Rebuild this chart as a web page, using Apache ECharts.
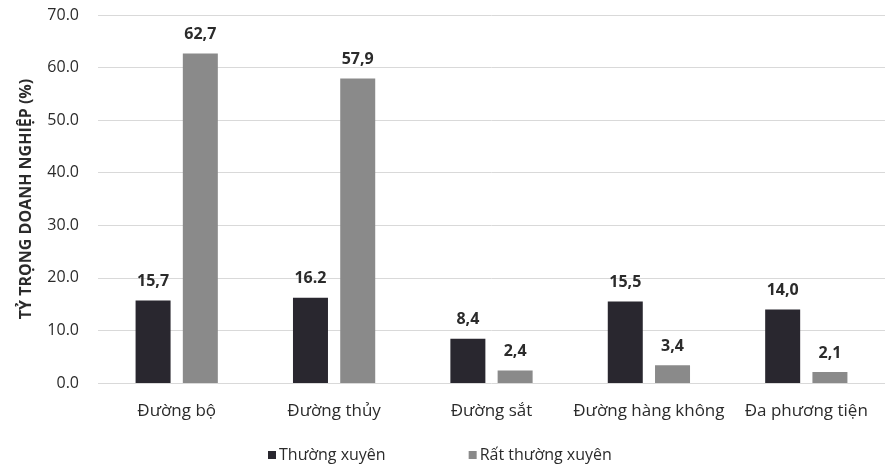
<!DOCTYPE html>
<html>
<head>
<meta charset="utf-8">
<script src="https://cdn.jsdelivr.net/npm/echarts@6/dist/echarts.min.js"></script>
<style>
  html, body { margin: 0; padding: 0; background: #ffffff; }
  #chart { width: 885px; height: 464px; }
</style>
</head>
<body>
<div id="chart"></div>
<script>
// Transport modes used by enterprises
const categories = ['Đường bộ', 'Đường thủy', 'Đường sắt', 'Đường hàng không', 'Đa phương tiện'];

// Share of enterprises (%)
const seriesNames = ['Thường xuyên', 'Rất thường xuyên'];
const regularValues = [15.7, 16.2, 8.4, 15.5, 14.0];
const veryRegularValues = [62.7, 57.9, 2.4, 3.4, 2.1];

// Value labels as printed above the bars
const regularLabels = ['15,7', '16.2', '8,4', '15,5', '14,0'];
const veryRegularLabels = ['62,7', '57,9', '2,4', '3,4', '2,1'];

// Y axis
const yMin = 0, yMax = 70, yStep = 10;
const yAxisName = 'TỶ TRỌNG DOANH NGHIỆP (%)';

const FONT = '"Open Sans", Lato, sans-serif';
const TEXT = '#2b2b2b';

const chart = echarts.init(document.getElementById('chart'), null, { renderer: 'canvas' });

function labelFrom(list) {
  return {
    show: true,
    position: 'top',
    distance: 11,
    fontFamily: FONT,
    fontSize: 16,
    fontWeight: 'bold',
    color: TEXT,
    formatter: (p) => list[p.dataIndex]
  };
}

chart.setOption({
  animation: false,
  backgroundColor: '#ffffff',
  textStyle: { fontFamily: FONT },
  grid: { left: 98, top: 15, height: 368, width: 800, containLabel: false },
  legend: {
    data: seriesNames,
    left: 263,
    top: 442,
    itemWidth: 8,
    itemHeight: 8,
    itemGap: 83,
    icon: 'rect',
    textStyle: { fontFamily: FONT, fontSize: 16, color: TEXT, padding: [0, 0, 0, -2] }
  },
  xAxis: {
    type: 'category',
    data: categories,
    axisLine: { show: false },
    axisTick: { show: false },
    axisLabel: {
      margin: 20,
      fontFamily: FONT,
      fontSize: 17,
      fontWeight: 500,
      color: TEXT,
      interval: 0
    }
  },
  yAxis: {
    type: 'value',
    min: yMin,
    max: yMax,
    interval: yStep,
    name: yAxisName,
    nameLocation: 'middle',
    nameGap: 64,
    nameRotate: 90,
    nameTextStyle: { fontFamily: FONT, fontSize: 16, color: TEXT, fontWeight: 'bold' },
    axisLine: { show: false },
    axisTick: { show: false },
    axisLabel: {
      margin: 19,
      fontFamily: FONT,
      fontSize: 16,
      fontWeight: 500,
      color: TEXT,
      formatter: (v) => v.toFixed(1)
    },
    splitLine: { lineStyle: { color: '#d9d9d9', width: 1 } }
  },
  series: [
    {
      name: seriesNames[0],
      type: 'bar',
      data: regularValues,
      barWidth: 35,
      barGap: '35%',
      itemStyle: { color: '#29272f' },
      label: labelFrom(regularLabels)
    },
    {
      name: seriesNames[1],
      type: 'bar',
      data: veryRegularValues,
      barWidth: 35,
      itemStyle: { color: '#8a8a8a' },
      label: labelFrom(veryRegularLabels)
    }
  ]
});
</script>
</body>
</html>
